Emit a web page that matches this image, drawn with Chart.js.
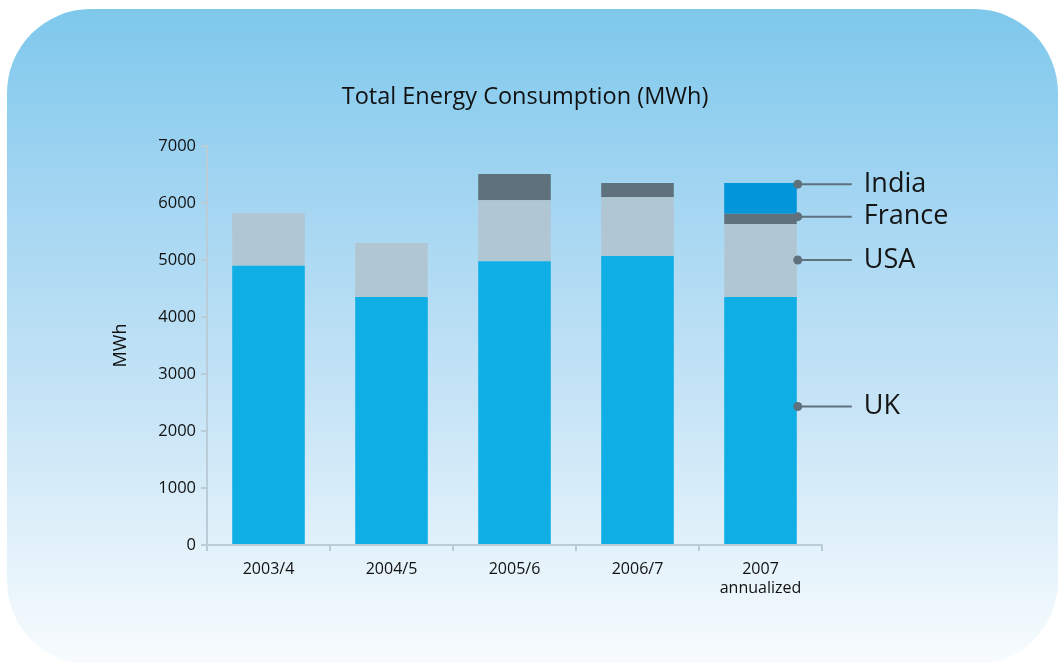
<!DOCTYPE html>
<html><head><meta charset="utf-8">
<script src="https://cdn.jsdelivr.net/npm/chart.js@4.4.0/dist/chart.umd.min.js"></script>
<style>html,body{margin:0;padding:0;background:#fff;}#wrap{width:1064px;height:663px;position:relative;}</style>
</head><body><div id="wrap"><canvas id="c" width="1064" height="663"></canvas></div>
<script>
const categories = [["2003/4"], ["2004/5"], ["2005/6"], ["2006/7"], ["2007", "annualized"]];
const ukValues = [4900, 4350, 4980, 5070, 4350];
const usaValues = [920, 950, 1070, 1030, 1280];
const franceValues = [null, null, 460, 250, 180];
const indiaValues = [null, null, null, null, 540];
const seriesNames = ["UK", "USA", "France", "India"];
const labelAnchorValues = [2430, 5000, 5760, 6330];
const yTicks = [0, 1000, 2000, 3000, 4000, 5000, 6000, 7000];
const chartTitle = "Total Energy Consumption (MWh)";

const FONT = "'Open Sans', 'Noto Sans', sans-serif";

const bgPlugin = {
  id: 'bg',
  beforeDraw(chart) {
    const ctx = chart.ctx;
    const x0 = 7, y0 = 9, x1 = 1058, y1 = 665, r = 84;
    const g = ctx.createLinearGradient(0, y0, 0, y1);
    g.addColorStop(0, '#7ec8ec');
    g.addColorStop(0.3, '#a5d6f2');
    g.addColorStop(0.6, '#c6e4f6');
    g.addColorStop(0.85, '#e6f3fb');
    g.addColorStop(1, '#f8fcfe');
    ctx.save();
    ctx.beginPath();
    ctx.moveTo(x0 + r, y0);
    ctx.lineTo(x1 - r, y0);
    ctx.arcTo(x1, y0, x1, y0 + r, r);
    ctx.lineTo(x1, y1 - r);
    ctx.arcTo(x1, y1, x1 - r, y1, r);
    ctx.lineTo(x0 + r, y1);
    ctx.arcTo(x0, y1, x0, y1 - r, r);
    ctx.lineTo(x0, y0 + r);
    ctx.arcTo(x0, y0, x0 + r, y0, r);
    ctx.closePath();
    ctx.fillStyle = g;
    ctx.fill();
    ctx.fillStyle = '#111';
    ctx.font = '23.5px ' + FONT;
    ctx.textAlign = 'center';
    ctx.textBaseline = 'middle';
    ctx.fillText(chartTitle, 525, 97);
    ctx.restore();
  }
};

const labelPlugin = {
  id: 'seriesLabels',
  afterDatasetsDraw(chart) {
    const ctx = chart.ctx;
    const meta = chart.getDatasetMeta(0);
    const lastBar = meta.data[meta.data.length - 1];
    const xRight = lastBar.x + lastBar.width / 2;
    const yScale = chart.scales.y;
    ctx.save();
    seriesNames.forEach((name, i) => {
      const y = yScale.getPixelForValue(labelAnchorValues[i]);
      ctx.strokeStyle = '#5e717c';
      ctx.lineWidth = 2;
      ctx.beginPath();
      ctx.moveTo(xRight, y);
      ctx.lineTo(xRight + 55, y);
      ctx.stroke();
      ctx.fillStyle = '#5e717c';
      ctx.beginPath();
      ctx.arc(xRight + 1, y, 4.5, 0, Math.PI * 2);
      ctx.fill();
      ctx.fillStyle = '#151515';
      ctx.font = '27px ' + FONT;
      ctx.textBaseline = 'middle';
      ctx.textAlign = 'left';
      ctx.fillText(name, xRight + 67, y);
    });
    ctx.restore();
  }
};

new Chart(document.getElementById('c'), {
  type: 'bar',
  data: {
    labels: categories,
    datasets: [
      { label: seriesNames[0], data: ukValues, backgroundColor: '#0faee4' },
      { label: seriesNames[1], data: usaValues, backgroundColor: '#b0c6d3' },
      { label: seriesNames[2], data: franceValues, backgroundColor: '#5e717c' },
      { label: seriesNames[3], data: indiaValues, backgroundColor: '#0096d9' }
    ]
  },
  options: {
    responsive: false,
    animation: false,
    layout: { padding: { left: 110, right: 242, top: 146, bottom: 58 } },
    datasets: { bar: { categoryPercentage: 1, barPercentage: 0.59, borderWidth: 0 } },
    plugins: {
      legend: { display: false },
      tooltip: { enabled: false },
      title: { display: false }
    },
    scales: {
      x: {
        stacked: true,
        afterFit: s => { s.height = 60; },
        grid: { display: true, drawOnChartArea: false, drawTicks: true, tickLength: 6, color: '#b9ccd8', lineWidth: 2, offset: true },
        border: { display: true, color: '#b9ccd8', width: 2 },
        ticks: { color: '#111', font: { family: FONT, size: 16 }, padding: 9, maxRotation: 0 }
      },
      y: {
        stacked: true,
        min: 0, max: 7000,
        afterBuildTicks: s => { s.ticks = yTicks.map(v => ({ value: v })); },
        afterFit: s => { s.width = 97; },
        grid: { display: true, drawOnChartArea: false, drawTicks: true, tickLength: 6, color: '#b9ccd8', lineWidth: 2 },
        border: { display: true, color: '#b9ccd8', width: 2 },
        ticks: { color: '#111', font: { family: FONT, size: 16.5 }, padding: 5, callback: v => String(v) },
        title: { display: true, text: 'MWh', color: '#111', font: { family: FONT, size: 18 }, padding: { top: 0, bottom: 20 } }
      }
    }
  },
  plugins: [bgPlugin, labelPlugin]
});
</script>
</body></html>
